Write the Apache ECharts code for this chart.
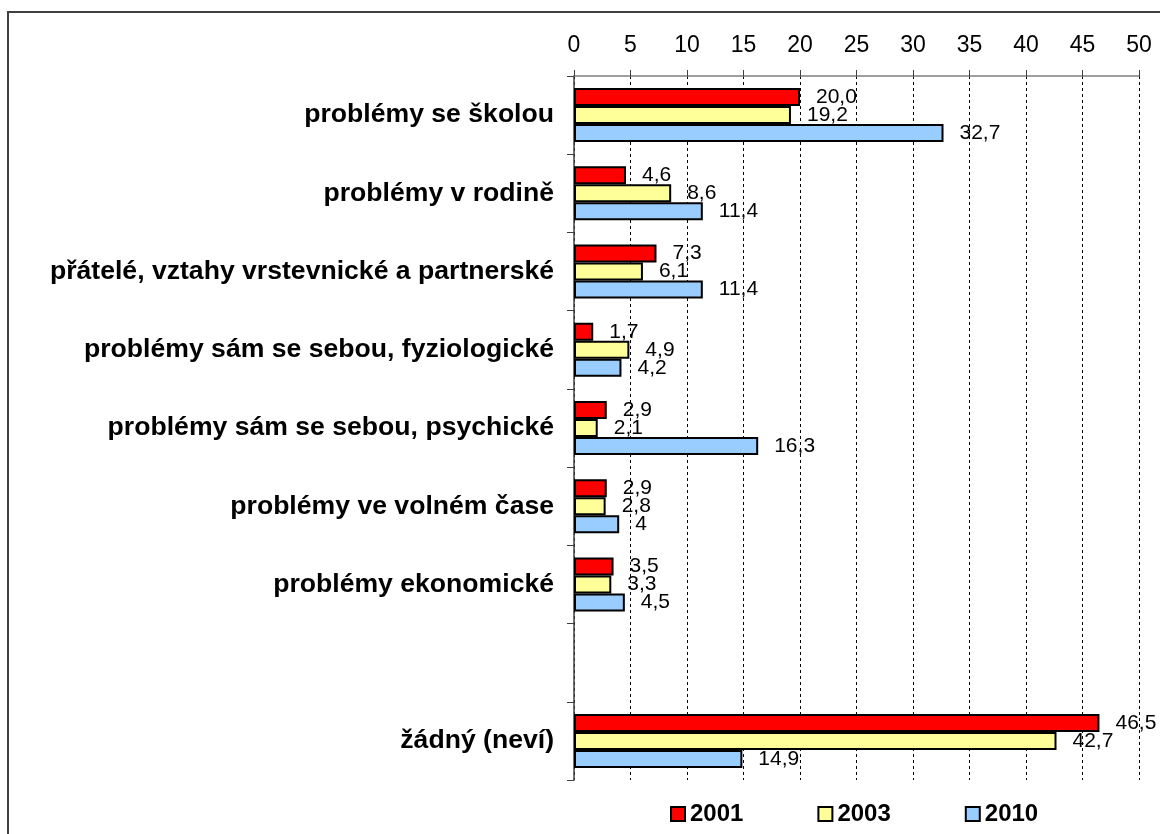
<!DOCTYPE html>
<html>
<head>
<meta charset="utf-8">
<script src="https://cdn.jsdelivr.net/npm/echarts@6/dist/echarts.min.js"></script>
<style>
html,body{margin:0;padding:0;background:#fff;}
#c{width:1160px;height:834px;}
</style>
</head>
<body>
<div id="c"></div>
<script>
const categories = [
  'problémy se školou',
  'problémy v rodině',
  'přátelé, vztahy vrstevnické a partnerské',
  'problémy sám se sebou, fyziologické',
  'problémy sám se sebou, psychické',
  'problémy ve volném čase',
  'problémy ekonomické',
  '',
  'žádný (neví)'
];
const series2001 = [20.0, 4.6, 7.3, 1.7, 2.9, 2.9, 3.5, '-', 46.5];
const series2003 = [19.2, 8.6, 6.1, 4.9, 2.1, 2.8, 3.3, '-', 42.7];
const series2010 = [32.7, 11.4, 11.4, 4.2, 16.3, 4, 4.5, '-', 14.9];
const xTicks = { min: 0, max: 50, interval: 5 };

const FONT = '"Liberation Sans", Arial, sans-serif';

function fmt(p) {
  const v = p.value;
  if (p.seriesName === '2010' && v === 4) return '4';
  return v.toFixed(1).replace('.', ',');
}

function mk(name, data, color) {
  return {
    name: name,
    type: 'bar',
    data: data,
    barWidth: 18,
    barGap: '0%',
    itemStyle: { color: color, borderColor: '#000', borderWidth: 2 },
    label: {
      show: true,
      position: 'right',
      distance: 16,
      formatter: fmt,
      color: '#000',
      fontFamily: FONT,
      fontSize: 21
    }
  };
}

const chart = echarts.init(document.getElementById('c'), null, { renderer: 'canvas' });
chart.setOption({
  animation: false,
  backgroundColor: '#fff',
  graphic: [{
    type: 'rect',
    shape: { x: 8, y: 12, width: 1200, height: 900 },
    style: { fill: 'none', stroke: '#404040', lineWidth: 2 },
    silent: true
  }],
  grid: { left: 574, right: 21, top: 76, bottom: 54, containLabel: false },
  legend: {
    left: 665,
    top: 797,
    itemWidth: 14,
    itemHeight: 14,
    itemGap: 74,
    icon: 'rect',
    textStyle: { fontFamily: FONT, fontSize: 24, fontWeight: 'bold', color: '#000' },
    data: ['2001', '2003', '2010']
  },
  xAxis: {
    type: 'value',
    position: 'top',
    min: xTicks.min,
    max: xTicks.max,
    interval: xTicks.interval,
    axisLine: { show: true, lineStyle: { color: '#808080', width: 1.5 } },
    axisTick: { show: true, length: 6, lineStyle: { color: '#404040' } },
    axisLabel: { color: '#000', fontFamily: FONT, fontSize: 23, margin: 19 },
    splitLine: { show: true, lineStyle: { color: '#000', type: [3, 3], width: 1 } }
  },
  yAxis: {
    type: 'category',
    inverse: true,
    data: categories,
    axisLine: { show: true, lineStyle: { color: '#404040', width: 1.5 } },
    axisTick: { show: true, length: 7, lineStyle: { color: '#404040' } },
    axisLabel: { color: '#000', fontFamily: FONT, fontSize: 26.6, fontWeight: 'bold', margin: 20 }
  },
  series: [
    mk('2001', series2001, '#FF0000'),
    mk('2003', series2003, '#FFFF99'),
    mk('2010', series2010, '#99CCFF')
  ]
});
</script>
</body>
</html>
